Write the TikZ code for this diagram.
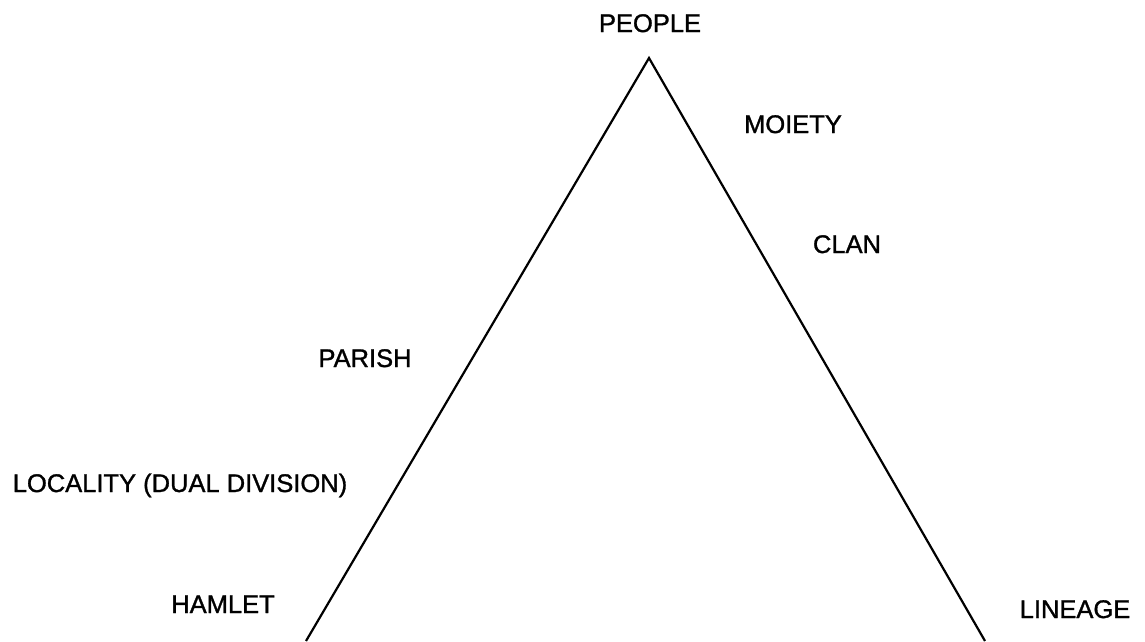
\documentclass[tikz,border=0pt]{standalone}
\usepackage{fontspec}
\setmainfont{Liberation Sans}
\newfontfamily\lblfont[FakeBold=1.2]{Liberation Sans}
\begin{document}
\begin{tikzpicture}[x=1pt,y=-1pt,
  lbl/.style={anchor=base,inner sep=0pt,font=\lblfont\fontsize{25.5}{30}\selectfont},
  edge/.style={line width=2.2pt,line join=miter}]
\useasboundingbox (0,0) rectangle (1145,641);
\coordinate (apex) at (649,58);
\coordinate (bl) at (306,641);
\coordinate (br) at (985,641);
\draw[edge] (bl) -- (apex) -- (br);
\node[lbl] (people) at (650,32) {PEOPLE};
\node[lbl] (moiety) at (793,133) {MOIETY};
\node[lbl] (clan) at (847,253) {CLAN};
\node[lbl] (parish) at (365,367) {PARISH};
\node[lbl] (locality) at (180,492) {LOCALITY (DUAL DIVISION)};
\node[lbl] (hamlet) at (223,613) {HAMLET};
\node[lbl] (lineage) at (1075,618) {LINEAGE};
\end{tikzpicture}
\end{document}
